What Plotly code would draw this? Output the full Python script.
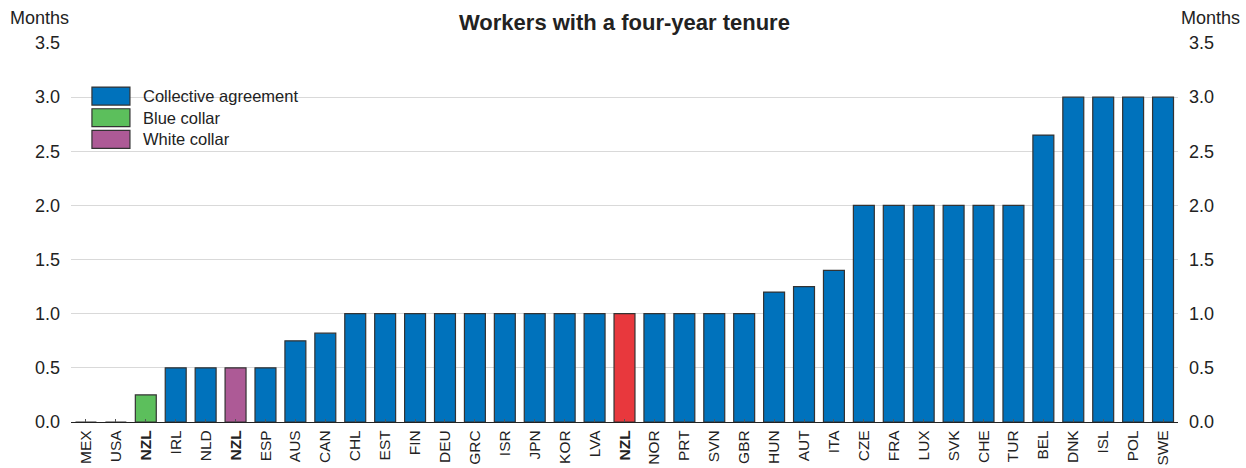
import plotly.graph_objects as go

countries = ["MEX", "USA", "NZL", "IRL", "NLD", "NZL", "ESP", "AUS", "CAN", "CHL", "EST", "FIN",
             "DEU", "GRC", "ISR", "JPN", "KOR", "LVA", "NZL", "NOR", "PRT", "SVN", "GBR", "HUN",
             "AUT", "ITA", "CZE", "FRA", "LUX", "SVK", "CHE", "TUR", "BEL", "DNK", "ISL", "POL", "SWE"]
values = [0, 0, 0.25, 0.5, 0.5, 0.5, 0.5, 0.75, 0.82, 1, 1, 1,
          1, 1, 1, 1, 1, 1, 1, 1, 1, 1, 1, 1.2,
          1.25, 1.4, 2, 2, 2, 2, 2, 2, 2.65, 3, 3, 3, 3]
groups = ["c", "c", "blue", "c", "c", "white", "c", "c", "c", "c", "c", "c",
          "c", "c", "c", "c", "c", "c", "nzl", "c", "c", "c", "c", "c",
          "c", "c", "c", "c", "c", "c", "c", "c", "c", "c", "c", "c", "c"]
highlight = [2, 5, 18]
legend_labels = ["Collective agreement", "Blue collar", "White collar"]

colour_map = {"c": "#0072BC", "blue": "#5CBF5C", "white": "#AD5A96", "nzl": "#E8383D"}
colors = [colour_map[g] for g in groups]
xs = list(range(len(countries)))
ticktext = [f"<b>{c}</b>" if i in highlight else c for i, c in enumerate(countries)]

FONT = "Liberation Sans, Arial, sans-serif"
TXT = "#222222"

fig = go.Figure()
fig.add_trace(go.Bar(x=xs, y=values, marker=dict(color=colors, line=dict(color="#333333", width=1.2)),
                     width=0.7, showlegend=False, hoverinfo="x+y"))
fig.add_trace(go.Scatter(x=[0], y=[0], yaxis="y2", mode="markers", marker=dict(opacity=0),
                         showlegend=False, hoverinfo="skip"))

yt = [0, 0.5, 1, 1.5, 2, 2.5, 3, 3.5]
ytt = [f"{v:.1f}" for v in yt]
fig.update_layout(
    width=1246, height=468,
    margin=dict(l=71, r=68, t=43, b=46),
    plot_bgcolor="white", paper_bgcolor="white",
    font=dict(family=FONT, color=TXT),
    xaxis=dict(range=[-0.5, len(countries) - 0.5], tickvals=xs, ticktext=ticktext, tickangle=-90,
               tickfont=dict(size=15.5, color=TXT), ticks="inside", ticklen=3, tickcolor="#555555",
               showgrid=False, showline=True, linecolor="#222222", linewidth=1.2, zeroline=False,
               automargin=False, ticklabelstandoff=1),
    yaxis=dict(range=[0, 3.5], tickvals=yt, ticktext=ytt, tickfont=dict(size=18, color=TXT),
               showgrid=True, gridcolor="#d9d9d9", gridwidth=1, zeroline=False, showline=False,
               ticks="", ticklabelstandoff=10, automargin=False),
    yaxis2=dict(range=[0, 3.5], tickvals=yt, ticktext=ytt, tickfont=dict(size=18, color=TXT),
                overlaying="y", side="right", showgrid=False, zeroline=False, showline=False,
                ticks="", ticklabelstandoff=10, automargin=False),
    bargap=0.3,
)

fig.add_annotation(text="<b>Workers with a four-year tenure</b>", xref="paper", yref="paper",
                   x=0.5, y=1, yshift=21, showarrow=False, font=dict(size=22, color=TXT),
                   xanchor="center", yanchor="middle")
fig.add_annotation(text="Months", xref="paper", yref="paper", x=0, xshift=-63, y=1, yshift=25,
                   showarrow=False, xanchor="left", yanchor="middle", font=dict(size=18, color=TXT))
fig.add_annotation(text="Months", xref="paper", yref="paper", x=1, xshift=64, y=1, yshift=25,
                   showarrow=False, xanchor="right", yanchor="middle", font=dict(size=18, color=TXT))

# legend drawn manually
leg_colors = [colour_map["c"], colour_map["blue"], colour_map["white"]]
for i, (lab, col) in enumerate(zip(legend_labels, leg_colors)):
    y0 = 3.01 - 0.2 * i
    fig.add_shape(type="rect", xref="x", yref="y", x0=0.2, x1=1.47, y0=y0 - 0.083, y1=y0 + 0.083,
                  fillcolor=col, line=dict(color="#333333", width=1.2), layer="above")
    fig.add_annotation(text=lab, xref="x", yref="y", x=1.9, y=y0, showarrow=False, xanchor="left",
                       yanchor="middle", xshift=-2, font=dict(size=16.5, color=TXT))

fig.write_html("out.html", config={"displayModeBar": False},
               post_script="document.body.style.margin='0';document.body.style.overflow='hidden';")
